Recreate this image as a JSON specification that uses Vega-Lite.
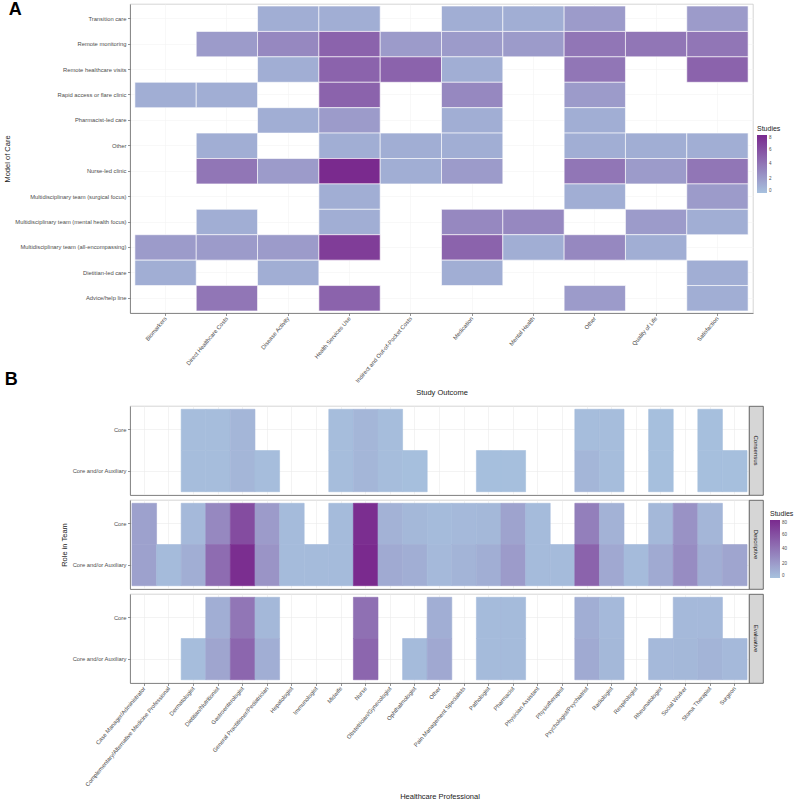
{
  "$schema": "https://vega.github.io/schema/vega-lite/v6.json",
  "padding": {"left": 3, "top": 0, "right": 2, "bottom": 2},
  "background": "white",
  "config": {
    "font": "Liberation Sans",
    "view": {"stroke": "#c4c4c4", "strokeWidth": 0.7},
    "axis": {
      "zindex": 0,
      "labelFontSize": 5.8,
      "labelColor": "#4d4d4d",
      "labelPadding": 1.5,
      "titleFontSize": 7.5,
      "titleFontWeight": "normal",
      "titleColor": "#1a1a1a",
      "tickColor": "#4d4d4d",
      "tickSize": 2.5,
      "tickWidth": 0.6,
      "domainColor": "#666666",
      "domainWidth": 0.7,
      "gridColor": "#ebebeb",
      "gridWidth": 0.6
    },
    "legend": {
      "titleFontSize": 7,
      "titleFontWeight": "normal",
      "titleColor": "#1a1a1a",
      "labelFontSize": 4.5,
      "labelColor": "#4d4d4d",
      "gradientLength": 58,
      "gradientThickness": 10,
      "gradientStrokeWidth": 0,
      "labelOffset": 2,
      "titlePadding": 3
    },
    "title": {"fontSize": 18, "fontWeight": "bold", "color": "#000000", "anchor": "start", "frame": "bounds"}
  },
  "datasets": {
    "models": [
      {"model": "Transition care", "outcome": "Disease Activity", "studies": 1},
      {"model": "Transition care", "outcome": "Health Services Use", "studies": 1},
      {"model": "Transition care", "outcome": "Medication", "studies": 1},
      {"model": "Transition care", "outcome": "Mental Health", "studies": 1},
      {"model": "Transition care", "outcome": "Other", "studies": 2},
      {"model": "Transition care", "outcome": "Satisfaction", "studies": 2},
      {"model": "Remote monitoring", "outcome": "Direct Healthcare Costs", "studies": 2},
      {"model": "Remote monitoring", "outcome": "Disease Activity", "studies": 3},
      {"model": "Remote monitoring", "outcome": "Health Services Use", "studies": 5},
      {"model": "Remote monitoring", "outcome": "Indirect and Out-of-Pocket Costs", "studies": 2},
      {"model": "Remote monitoring", "outcome": "Medication", "studies": 2},
      {"model": "Remote monitoring", "outcome": "Mental Health", "studies": 2},
      {"model": "Remote monitoring", "outcome": "Other", "studies": 4},
      {"model": "Remote monitoring", "outcome": "Quality of Life", "studies": 4},
      {"model": "Remote monitoring", "outcome": "Satisfaction", "studies": 4},
      {"model": "Remote healthcare visits", "outcome": "Disease Activity", "studies": 1},
      {"model": "Remote healthcare visits", "outcome": "Health Services Use", "studies": 5},
      {"model": "Remote healthcare visits", "outcome": "Indirect and Out-of-Pocket Costs", "studies": 5},
      {"model": "Remote healthcare visits", "outcome": "Medication", "studies": 1},
      {"model": "Remote healthcare visits", "outcome": "Other", "studies": 4},
      {"model": "Remote healthcare visits", "outcome": "Satisfaction", "studies": 5},
      {"model": "Rapid access or flare clinic", "outcome": "Biomarkers", "studies": 1},
      {"model": "Rapid access or flare clinic", "outcome": "Direct Healthcare Costs", "studies": 1},
      {"model": "Rapid access or flare clinic", "outcome": "Health Services Use", "studies": 5},
      {"model": "Rapid access or flare clinic", "outcome": "Medication", "studies": 3},
      {"model": "Rapid access or flare clinic", "outcome": "Other", "studies": 2},
      {"model": "Pharmacist-led care", "outcome": "Disease Activity", "studies": 1},
      {"model": "Pharmacist-led care", "outcome": "Health Services Use", "studies": 2},
      {"model": "Pharmacist-led care", "outcome": "Medication", "studies": 1},
      {"model": "Pharmacist-led care", "outcome": "Other", "studies": 1},
      {"model": "Other", "outcome": "Direct Healthcare Costs", "studies": 1},
      {"model": "Other", "outcome": "Health Services Use", "studies": 1},
      {"model": "Other", "outcome": "Indirect and Out-of-Pocket Costs", "studies": 1},
      {"model": "Other", "outcome": "Medication", "studies": 1},
      {"model": "Other", "outcome": "Other", "studies": 1},
      {"model": "Other", "outcome": "Quality of Life", "studies": 1},
      {"model": "Other", "outcome": "Satisfaction", "studies": 1},
      {"model": "Nurse-led clinic", "outcome": "Direct Healthcare Costs", "studies": 4},
      {"model": "Nurse-led clinic", "outcome": "Disease Activity", "studies": 2},
      {"model": "Nurse-led clinic", "outcome": "Health Services Use", "studies": 8},
      {"model": "Nurse-led clinic", "outcome": "Indirect and Out-of-Pocket Costs", "studies": 1},
      {"model": "Nurse-led clinic", "outcome": "Medication", "studies": 2},
      {"model": "Nurse-led clinic", "outcome": "Other", "studies": 4},
      {"model": "Nurse-led clinic", "outcome": "Quality of Life", "studies": 2},
      {"model": "Nurse-led clinic", "outcome": "Satisfaction", "studies": 4},
      {"model": "Multidisciplinary team (surgical focus)", "outcome": "Health Services Use", "studies": 1},
      {"model": "Multidisciplinary team (surgical focus)", "outcome": "Other", "studies": 1},
      {"model": "Multidisciplinary team (surgical focus)", "outcome": "Satisfaction", "studies": 2},
      {"model": "Multidisciplinary team (mental health focus)", "outcome": "Direct Healthcare Costs", "studies": 1},
      {"model": "Multidisciplinary team (mental health focus)", "outcome": "Health Services Use", "studies": 1},
      {"model": "Multidisciplinary team (mental health focus)", "outcome": "Medication", "studies": 3},
      {"model": "Multidisciplinary team (mental health focus)", "outcome": "Mental Health", "studies": 3},
      {"model": "Multidisciplinary team (mental health focus)", "outcome": "Quality of Life", "studies": 2},
      {"model": "Multidisciplinary team (mental health focus)", "outcome": "Satisfaction", "studies": 1},
      {"model": "Multidisciplinary team (all-encompassing)", "outcome": "Biomarkers", "studies": 2},
      {"model": "Multidisciplinary team (all-encompassing)", "outcome": "Direct Healthcare Costs", "studies": 2},
      {"model": "Multidisciplinary team (all-encompassing)", "outcome": "Disease Activity", "studies": 2},
      {"model": "Multidisciplinary team (all-encompassing)", "outcome": "Health Services Use", "studies": 7},
      {"model": "Multidisciplinary team (all-encompassing)", "outcome": "Medication", "studies": 5},
      {"model": "Multidisciplinary team (all-encompassing)", "outcome": "Mental Health", "studies": 1},
      {"model": "Multidisciplinary team (all-encompassing)", "outcome": "Other", "studies": 3},
      {"model": "Multidisciplinary team (all-encompassing)", "outcome": "Quality of Life", "studies": 1},
      {"model": "Dietitian-led care", "outcome": "Biomarkers", "studies": 1},
      {"model": "Dietitian-led care", "outcome": "Disease Activity", "studies": 1},
      {"model": "Dietitian-led care", "outcome": "Medication", "studies": 1},
      {"model": "Dietitian-led care", "outcome": "Satisfaction", "studies": 1},
      {"model": "Advice/help line", "outcome": "Direct Healthcare Costs", "studies": 4},
      {"model": "Advice/help line", "outcome": "Health Services Use", "studies": 5},
      {"model": "Advice/help line", "outcome": "Other", "studies": 2},
      {"model": "Advice/help line", "outcome": "Satisfaction", "studies": 1}
    ],
    "teams": [
      {"design": "Consensus", "professional": "Dermatologist", "role": "Core", "studies": 2},
      {"design": "Consensus", "professional": "Dermatologist", "role": "Core and/or Auxiliary", "studies": 2},
      {"design": "Consensus", "professional": "Dietitian/Nutritionist", "role": "Core", "studies": 2},
      {"design": "Consensus", "professional": "Dietitian/Nutritionist", "role": "Core and/or Auxiliary", "studies": 2},
      {"design": "Consensus", "professional": "Gastroenterologist", "role": "Core", "studies": 6},
      {"design": "Consensus", "professional": "Gastroenterologist", "role": "Core and/or Auxiliary", "studies": 6},
      {"design": "Consensus", "professional": "General Practitioner/Pediatrician", "role": "Core and/or Auxiliary", "studies": 2},
      {"design": "Consensus", "professional": "Midwife", "role": "Core", "studies": 2},
      {"design": "Consensus", "professional": "Midwife", "role": "Core and/or Auxiliary", "studies": 2},
      {"design": "Consensus", "professional": "Nurse", "role": "Core", "studies": 6},
      {"design": "Consensus", "professional": "Nurse", "role": "Core and/or Auxiliary", "studies": 6},
      {"design": "Consensus", "professional": "Obstetrician/Gynecologist", "role": "Core", "studies": 2},
      {"design": "Consensus", "professional": "Obstetrician/Gynecologist", "role": "Core and/or Auxiliary", "studies": 2},
      {"design": "Consensus", "professional": "Ophthalmologist", "role": "Core and/or Auxiliary", "studies": 1},
      {"design": "Consensus", "professional": "Pathologist", "role": "Core and/or Auxiliary", "studies": 1},
      {"design": "Consensus", "professional": "Pharmacist", "role": "Core and/or Auxiliary", "studies": 1},
      {"design": "Consensus", "professional": "Psychologist/Psychiatrist", "role": "Core", "studies": 2},
      {"design": "Consensus", "professional": "Psychologist/Psychiatrist", "role": "Core and/or Auxiliary", "studies": 6},
      {"design": "Consensus", "professional": "Radiologist", "role": "Core", "studies": 2},
      {"design": "Consensus", "professional": "Radiologist", "role": "Core and/or Auxiliary", "studies": 2},
      {"design": "Consensus", "professional": "Rheumatologist", "role": "Core", "studies": 1},
      {"design": "Consensus", "professional": "Rheumatologist", "role": "Core and/or Auxiliary", "studies": 1},
      {"design": "Consensus", "professional": "Stoma Therapist", "role": "Core", "studies": 1},
      {"design": "Consensus", "professional": "Stoma Therapist", "role": "Core and/or Auxiliary", "studies": 1},
      {"design": "Consensus", "professional": "Surgeon", "role": "Core and/or Auxiliary", "studies": 1},
      {"design": "Descriptive", "professional": "Case Manager/Administrator", "role": "Core", "studies": 17},
      {"design": "Descriptive", "professional": "Case Manager/Administrator", "role": "Core and/or Auxiliary", "studies": 17},
      {"design": "Descriptive", "professional": "Complementary/Alternative Medicine Professional", "role": "Core and/or Auxiliary", "studies": 3},
      {"design": "Descriptive", "professional": "Dermatologist", "role": "Core", "studies": 4},
      {"design": "Descriptive", "professional": "Dermatologist", "role": "Core and/or Auxiliary", "studies": 10},
      {"design": "Descriptive", "professional": "Dietitian/Nutritionist", "role": "Core", "studies": 30},
      {"design": "Descriptive", "professional": "Dietitian/Nutritionist", "role": "Core and/or Auxiliary", "studies": 45},
      {"design": "Descriptive", "professional": "Gastroenterologist", "role": "Core", "studies": 62},
      {"design": "Descriptive", "professional": "Gastroenterologist", "role": "Core and/or Auxiliary", "studies": 78},
      {"design": "Descriptive", "professional": "General Practitioner/Pediatrician", "role": "Core", "studies": 20},
      {"design": "Descriptive", "professional": "General Practitioner/Pediatrician", "role": "Core and/or Auxiliary", "studies": 24},
      {"design": "Descriptive", "professional": "Hepatologist", "role": "Core", "studies": 3},
      {"design": "Descriptive", "professional": "Hepatologist", "role": "Core and/or Auxiliary", "studies": 3},
      {"design": "Descriptive", "professional": "Immunologist", "role": "Core and/or Auxiliary", "studies": 3},
      {"design": "Descriptive", "professional": "Midwife", "role": "Core", "studies": 3},
      {"design": "Descriptive", "professional": "Midwife", "role": "Core and/or Auxiliary", "studies": 3},
      {"design": "Descriptive", "professional": "Nurse", "role": "Core", "studies": 78},
      {"design": "Descriptive", "professional": "Nurse", "role": "Core and/or Auxiliary", "studies": 80},
      {"design": "Descriptive", "professional": "Obstetrician/Gynecologist", "role": "Core", "studies": 8},
      {"design": "Descriptive", "professional": "Obstetrician/Gynecologist", "role": "Core and/or Auxiliary", "studies": 12},
      {"design": "Descriptive", "professional": "Ophthalmologist", "role": "Core", "studies": 5},
      {"design": "Descriptive", "professional": "Ophthalmologist", "role": "Core and/or Auxiliary", "studies": 10},
      {"design": "Descriptive", "professional": "Other", "role": "Core", "studies": 3},
      {"design": "Descriptive", "professional": "Other", "role": "Core and/or Auxiliary", "studies": 4},
      {"design": "Descriptive", "professional": "Pain Management Specialists", "role": "Core", "studies": 4},
      {"design": "Descriptive", "professional": "Pain Management Specialists", "role": "Core and/or Auxiliary", "studies": 7},
      {"design": "Descriptive", "professional": "Pathologist", "role": "Core", "studies": 5},
      {"design": "Descriptive", "professional": "Pathologist", "role": "Core and/or Auxiliary", "studies": 10},
      {"design": "Descriptive", "professional": "Pharmacist", "role": "Core", "studies": 16},
      {"design": "Descriptive", "professional": "Pharmacist", "role": "Core and/or Auxiliary", "studies": 20},
      {"design": "Descriptive", "professional": "Physician Assistant", "role": "Core", "studies": 3},
      {"design": "Descriptive", "professional": "Physician Assistant", "role": "Core and/or Auxiliary", "studies": 3},
      {"design": "Descriptive", "professional": "Physiotherapist", "role": "Core and/or Auxiliary", "studies": 3},
      {"design": "Descriptive", "professional": "Psychologist/Psychiatrist", "role": "Core", "studies": 35},
      {"design": "Descriptive", "professional": "Psychologist/Psychiatrist", "role": "Core and/or Auxiliary", "studies": 50},
      {"design": "Descriptive", "professional": "Radiologist", "role": "Core", "studies": 8},
      {"design": "Descriptive", "professional": "Radiologist", "role": "Core and/or Auxiliary", "studies": 13},
      {"design": "Descriptive", "professional": "Respirologist", "role": "Core and/or Auxiliary", "studies": 3},
      {"design": "Descriptive", "professional": "Rheumatologist", "role": "Core", "studies": 5},
      {"design": "Descriptive", "professional": "Rheumatologist", "role": "Core and/or Auxiliary", "studies": 12},
      {"design": "Descriptive", "professional": "Social Worker", "role": "Core", "studies": 25},
      {"design": "Descriptive", "professional": "Social Worker", "role": "Core and/or Auxiliary", "studies": 28},
      {"design": "Descriptive", "professional": "Stoma Therapist", "role": "Core", "studies": 6},
      {"design": "Descriptive", "professional": "Stoma Therapist", "role": "Core and/or Auxiliary", "studies": 10},
      {"design": "Descriptive", "professional": "Surgeon", "role": "Core and/or Auxiliary", "studies": 15},
      {"design": "Evaluative", "professional": "Dermatologist", "role": "Core and/or Auxiliary", "studies": 2},
      {"design": "Evaluative", "professional": "Dietitian/Nutritionist", "role": "Core", "studies": 10},
      {"design": "Evaluative", "professional": "Dietitian/Nutritionist", "role": "Core and/or Auxiliary", "studies": 15},
      {"design": "Evaluative", "professional": "Gastroenterologist", "role": "Core", "studies": 40},
      {"design": "Evaluative", "professional": "Gastroenterologist", "role": "Core and/or Auxiliary", "studies": 48},
      {"design": "Evaluative", "professional": "General Practitioner/Pediatrician", "role": "Core", "studies": 5},
      {"design": "Evaluative", "professional": "General Practitioner/Pediatrician", "role": "Core and/or Auxiliary", "studies": 10},
      {"design": "Evaluative", "professional": "Nurse", "role": "Core", "studies": 43},
      {"design": "Evaluative", "professional": "Nurse", "role": "Core and/or Auxiliary", "studies": 48},
      {"design": "Evaluative", "professional": "Ophthalmologist", "role": "Core and/or Auxiliary", "studies": 3},
      {"design": "Evaluative", "professional": "Other", "role": "Core", "studies": 10},
      {"design": "Evaluative", "professional": "Other", "role": "Core and/or Auxiliary", "studies": 13},
      {"design": "Evaluative", "professional": "Pathologist", "role": "Core", "studies": 3},
      {"design": "Evaluative", "professional": "Pathologist", "role": "Core and/or Auxiliary", "studies": 3},
      {"design": "Evaluative", "professional": "Pharmacist", "role": "Core", "studies": 3},
      {"design": "Evaluative", "professional": "Pharmacist", "role": "Core and/or Auxiliary", "studies": 3},
      {"design": "Evaluative", "professional": "Psychologist/Psychiatrist", "role": "Core", "studies": 10},
      {"design": "Evaluative", "professional": "Psychologist/Psychiatrist", "role": "Core and/or Auxiliary", "studies": 12},
      {"design": "Evaluative", "professional": "Radiologist", "role": "Core", "studies": 4},
      {"design": "Evaluative", "professional": "Radiologist", "role": "Core and/or Auxiliary", "studies": 5},
      {"design": "Evaluative", "professional": "Rheumatologist", "role": "Core and/or Auxiliary", "studies": 4},
      {"design": "Evaluative", "professional": "Social Worker", "role": "Core", "studies": 4},
      {"design": "Evaluative", "professional": "Social Worker", "role": "Core and/or Auxiliary", "studies": 5},
      {"design": "Evaluative", "professional": "Stoma Therapist", "role": "Core", "studies": 4},
      {"design": "Evaluative", "professional": "Stoma Therapist", "role": "Core and/or Auxiliary", "studies": 7},
      {"design": "Evaluative", "professional": "Surgeon", "role": "Core and/or Auxiliary", "studies": 4}
    ]
  },
  "bounds": "flush",
  "spacing": 93,
  "resolve": {"scale": {"color": "independent"}, "legend": {"color": "independent"}},
  "vconcat": [
    {
      "title": {"text": "A", "offset": -15, "dx": 5},
      "width": 623,
      "height": 309,
      "data": {"name": "models"},
      "mark": {"type": "rect", "stroke": "white", "strokeWidth": 0.6},
      "encoding": {
        "x": {
          "field": "outcome", "type": "nominal", "title": "Study Outcome",
          "scale": {"domain": ["Biomarkers", "Direct Healthcare Costs", "Disease Activity", "Health Services Use", "Indirect and Out-of-Pocket Costs", "Medication", "Mental Health", "Other", "Quality of Life", "Satisfaction"], "paddingInner": 0, "paddingOuter": 0.08},
          "axis": {"labelAngle": -50, "grid": true, "gridColor": "#f3f3f3", "titlePadding": 5, "zindex": 0}
        },
        "y": {
          "field": "model", "type": "nominal", "title": "Model of Care",
          "scale": {"domain": ["Transition care", "Remote monitoring", "Remote healthcare visits", "Rapid access or flare clinic", "Pharmacist-led care", "Other", "Nurse-led clinic", "Multidisciplinary team (surgical focus)", "Multidisciplinary team (mental health focus)", "Multidisciplinary team (all-encompassing)", "Dietitian-led care", "Advice/help line"], "paddingInner": 0, "paddingOuter": 0.08},
          "axis": {"grid": true, "gridColor": "#f3f3f3", "titlePadding": 3, "zindex": 0}
        },
        "color": {
          "field": "studies", "type": "quantitative", "title": "Studies",
          "scale": {"domain": [0, 8], "range": ["#a7c1de", "#7a2a8e"], "interpolate": "rgb"},
          "legend": {"orient": "none", "legendX": 627, "legendY": 121, "direction": "vertical", "values": [0, 2, 4, 6, 8]}
        }
      }
    },
    {
      "columns": 2,
      "align": "each",
      "bounds": "flush",
      "spacing": {"row": 5, "column": 0},
      "concat": [
        {
          "title": {"text": "B", "offset": 17, "dx": -67},
          "width": 619,
          "height": 89,
          "data": {"name": "teams"},
          "transform": [{"filter": "datum.design === 'Consensus'"}],
          "mark": {"type": "rect", "strokeWidth": 0.6},
          "encoding": {
            "x": {
              "field": "professional", "type": "nominal",
              "scale": {"domain": ["Case Manager/Administrator", "Complementary/Alternative Medicine Professional", "Dermatologist", "Dietitian/Nutritionist", "Gastroenterologist", "General Practitioner/Pediatrician", "Hepatologist", "Immunologist", "Midwife", "Nurse", "Obstetrician/Gynecologist", "Ophthalmologist", "Other", "Pain Management Specialists", "Pathologist", "Pharmacist", "Physician Assistant", "Physiotherapist", "Psychologist/Psychiatrist", "Radiologist", "Respirologist", "Rheumatologist", "Social Worker", "Stoma Therapist", "Surgeon"], "paddingInner": 0, "paddingOuter": 0.08},
              "axis": {"labels": false, "ticks": false, "title": null, "grid": true, "zindex": 0}
            },
            "y": {
              "field": "role", "type": "nominal",
              "scale": {"domain": ["Core", "Core and/or Auxiliary"], "paddingInner": 0, "paddingOuter": 0.08},
              "axis": {"title": null, "grid": true, "zindex": 0}
            },
            "color": {
              "field": "studies", "type": "quantitative", "title": "Studies",
              "scale": {"domain": [0, 80], "range": ["#a7c1de", "#7a2a8e"], "interpolate": "rgb"},
              "legend": {"orient": "none", "legendX": 640, "legendY": 104, "direction": "vertical", "values": [0, 10, 20, 30, 40, 50, 60, 70, 80]}
            },
            "stroke": {
              "field": "studies", "type": "quantitative",
              "scale": {"domain": [0, 80], "range": ["#a7c1de", "#7a2a8e"], "interpolate": "rgb"},
              "legend": null
            }
          }
        },
        {
          "width": 14,
          "height": 89,
          "view": {"fill": "#d6d6d6", "stroke": "#4d4d4d", "strokeWidth": 0.8},
          "data": {"values": [{"design": "Consensus"}]},
          "mark": {"type": "text", "angle": 90, "fontSize": 6, "color": "#1a1a1a"},
          "encoding": {"text": {"field": "design"}}
        },
        {
          "width": 619,
          "height": 89,
          "data": {"name": "teams"},
          "transform": [{"filter": "datum.design === 'Descriptive'"}],
          "mark": {"type": "rect", "strokeWidth": 0.6},
          "encoding": {
            "x": {
              "field": "professional", "type": "nominal",
              "scale": {"domain": ["Case Manager/Administrator", "Complementary/Alternative Medicine Professional", "Dermatologist", "Dietitian/Nutritionist", "Gastroenterologist", "General Practitioner/Pediatrician", "Hepatologist", "Immunologist", "Midwife", "Nurse", "Obstetrician/Gynecologist", "Ophthalmologist", "Other", "Pain Management Specialists", "Pathologist", "Pharmacist", "Physician Assistant", "Physiotherapist", "Psychologist/Psychiatrist", "Radiologist", "Respirologist", "Rheumatologist", "Social Worker", "Stoma Therapist", "Surgeon"], "paddingInner": 0, "paddingOuter": 0.08},
              "axis": {"labels": false, "ticks": false, "title": null, "grid": true, "zindex": 0}
            },
            "y": {
              "field": "role", "type": "nominal", "title": "Role in Team",
              "scale": {"domain": ["Core", "Core and/or Auxiliary"], "paddingInner": 0, "paddingOuter": 0.08},
              "axis": {"grid": true, "titlePadding": 3, "zindex": 0}
            },
            "color": {
              "field": "studies", "type": "quantitative", "title": "Studies",
              "scale": {"domain": [0, 80], "range": ["#a7c1de", "#7a2a8e"], "interpolate": "rgb"},
              "legend": {"orient": "none", "legendX": 640, "legendY": 104, "direction": "vertical", "values": [0, 10, 20, 30, 40, 50, 60, 70, 80]}
            },
            "stroke": {
              "field": "studies", "type": "quantitative",
              "scale": {"domain": [0, 80], "range": ["#a7c1de", "#7a2a8e"], "interpolate": "rgb"},
              "legend": null
            }
          }
        },
        {
          "width": 14,
          "height": 89,
          "view": {"fill": "#d6d6d6", "stroke": "#4d4d4d", "strokeWidth": 0.8},
          "data": {"values": [{"design": "Descriptive"}]},
          "mark": {"type": "text", "angle": 90, "fontSize": 6, "color": "#1a1a1a"},
          "encoding": {"text": {"field": "design"}}
        },
        {
          "width": 619,
          "height": 89,
          "data": {"name": "teams"},
          "transform": [{"filter": "datum.design === 'Evaluative'"}],
          "mark": {"type": "rect", "strokeWidth": 0.6},
          "encoding": {
            "x": {
              "field": "professional", "type": "nominal", "title": "Healthcare Professional",
              "scale": {"domain": ["Case Manager/Administrator", "Complementary/Alternative Medicine Professional", "Dermatologist", "Dietitian/Nutritionist", "Gastroenterologist", "General Practitioner/Pediatrician", "Hepatologist", "Immunologist", "Midwife", "Nurse", "Obstetrician/Gynecologist", "Ophthalmologist", "Other", "Pain Management Specialists", "Pathologist", "Pharmacist", "Physician Assistant", "Physiotherapist", "Psychologist/Psychiatrist", "Radiologist", "Respirologist", "Rheumatologist", "Social Worker", "Stoma Therapist", "Surgeon"], "paddingInner": 0, "paddingOuter": 0.08},
              "axis": {"labelAngle": -50, "grid": true, "titlePadding": 5, "zindex": 0}
            },
            "y": {
              "field": "role", "type": "nominal",
              "scale": {"domain": ["Core", "Core and/or Auxiliary"], "paddingInner": 0, "paddingOuter": 0.08},
              "axis": {"title": null, "grid": true, "zindex": 0}
            },
            "color": {
              "field": "studies", "type": "quantitative", "title": "Studies",
              "scale": {"domain": [0, 80], "range": ["#a7c1de", "#7a2a8e"], "interpolate": "rgb"},
              "legend": {"orient": "none", "legendX": 640, "legendY": 104, "direction": "vertical", "values": [0, 10, 20, 30, 40, 50, 60, 70, 80]}
            },
            "stroke": {
              "field": "studies", "type": "quantitative",
              "scale": {"domain": [0, 80], "range": ["#a7c1de", "#7a2a8e"], "interpolate": "rgb"},
              "legend": null
            }
          }
        },
        {
          "width": 14,
          "height": 89,
          "view": {"fill": "#d6d6d6", "stroke": "#4d4d4d", "strokeWidth": 0.8},
          "data": {"values": [{"design": "Evaluative"}]},
          "mark": {"type": "text", "angle": 90, "fontSize": 6, "color": "#1a1a1a"},
          "encoding": {"text": {"field": "design"}}
        }
      ]
    }
  ]
}
